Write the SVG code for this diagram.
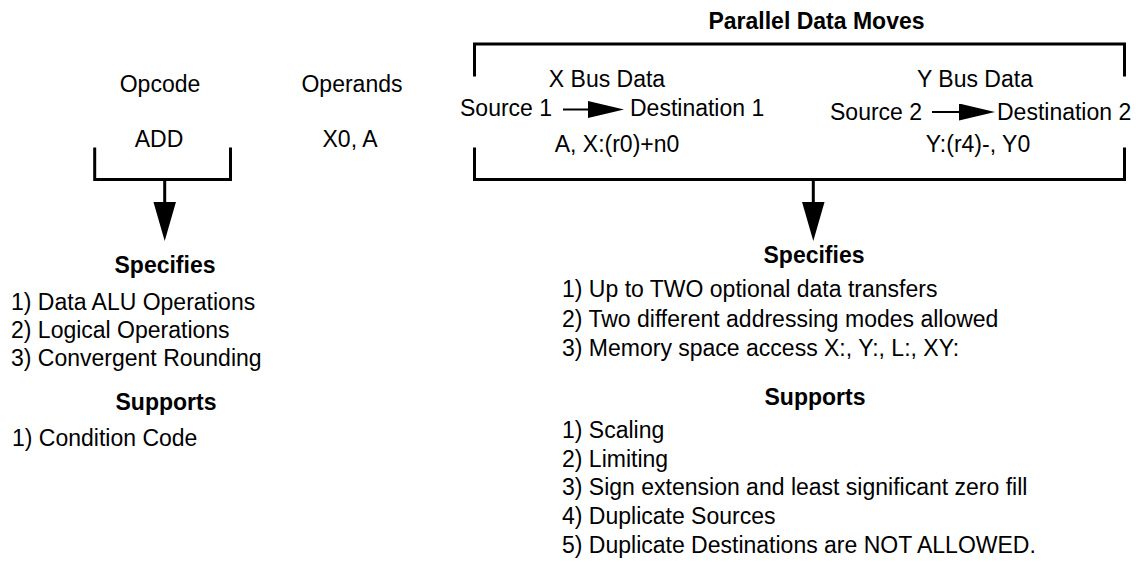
<svg xmlns="http://www.w3.org/2000/svg" width="1145" height="562" viewBox="0 0 1145 562">
  <style>
    text { font-family: "Liberation Sans", Arial, Helvetica, sans-serif; font-size: 23px; fill: #000; }
    .b { font-weight: bold; }
    .c { text-anchor: middle; }
    .bracket { fill: none; stroke: #000; stroke-width: 3; stroke-linecap: square; }
    .stem { stroke: #000; stroke-width: 3; fill: none; }
    .flow { stroke: #000; stroke-width: 2; fill: none; }
  </style>
  <defs>
    <marker id="bigHead" markerUnits="userSpaceOnUse" markerWidth="40" markerHeight="24" refX="0" refY="11.25" orient="auto">
      <path d="M0,0 L39,11.25 L0,22.5 Z" fill="#000"/>
    </marker>
    <marker id="smallHead" markerUnits="userSpaceOnUse" markerWidth="38" markerHeight="18" refX="1" refY="8.5" orient="auto">
      <path d="M0,0 L36,8.5 L0,17 Z" fill="#000"/>
    </marker>
  </defs>

  <!-- Opcode field -->
  <g id="opcode">
    <text class="c" x="160" y="92">Opcode</text>
    <text class="c" x="159" y="147">ADD</text>
    <path class="bracket" d="M94.7,149 V179.5 H230.5 V149"/>
  </g>

  <!-- Operands field -->
  <g id="operands">
    <text class="c" x="352" y="92">Operands</text>
    <text class="c" x="350" y="147">X0, A</text>
  </g>

  <!-- Parallel data moves field -->
  <g id="parallel-moves">
    <text class="b c" x="816.5" y="28.5">Parallel Data Moves</text>
    <path class="bracket" d="M474.5,75 V44 H1124.5 V75"/>
    <path class="bracket" d="M474.5,149 V179.5 H1124.5 V149"/>
    <text class="c" x="607" y="87">X Bus Data</text>
    <text x="460" y="116">Source 1</text>
    <text x="630" y="116">Destination 1</text>
    <text class="c" x="617" y="152">A, X:(r0)+n0</text>
    <text class="c" x="975" y="87">Y Bus Data</text>
    <text x="830" y="119.5">Source 2</text>
    <text x="997" y="119.5">Destination 2</text>
    <text class="c" x="978" y="152">Y:(r4)-, Y0</text>
  </g>

  <!-- What the opcode selects -->
  <g id="opcode-notes">
    <text class="b c" x="165" y="273">Specifies</text>
    <text x="11" y="310">1) Data ALU Operations</text>
    <text x="11" y="338">2) Logical Operations</text>
    <text x="11" y="366">3) Convergent Rounding</text>
    <text class="b c" x="166" y="410">Supports</text>
    <text x="12" y="446">1) Condition Code</text>
  </g>

  <!-- What the parallel moves select -->
  <g id="moves-notes">
    <text class="b c" x="814" y="263">Specifies</text>
    <text x="562" y="297">1) Up to TWO optional data transfers</text>
    <text x="562" y="327">2) Two different addressing modes allowed</text>
    <text x="562" y="356">3) Memory space access X:, Y:, L:, XY:</text>
    <text class="b c" x="815" y="405">Supports</text>
    <text x="562" y="438">1) Scaling</text>
    <text x="562" y="467">2) Limiting</text>
    <text x="562" y="495">3) Sign extension and least significant zero fill</text>
    <text x="562" y="524">4) Duplicate Sources</text>
    <text x="562" y="553">5) Duplicate Destinations are NOT ALLOWED.</text>
  </g>

  <!-- Connectors -->
  <g id="connectors">
    <line class="stem" x1="164.7" y1="179.5" x2="164.7" y2="202" marker-end="url(#bigHead)"/>
    <line class="stem" x1="813.3" y1="179.5" x2="813.3" y2="202" marker-end="url(#bigHead)"/>
    <line class="flow" x1="563" y1="109.5" x2="589" y2="109.5" marker-end="url(#smallHead)"/>
    <line class="flow" x1="932" y1="112" x2="960" y2="112" marker-end="url(#smallHead)"/>
  </g>
</svg>
